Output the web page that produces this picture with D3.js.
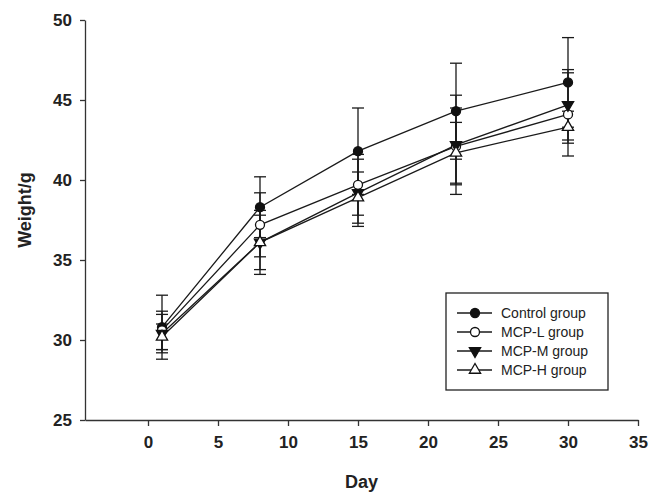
<!DOCTYPE html>
<meta charset="utf-8">
<style>
    body { margin: 0; background: #fff; }
    svg text { font-family: "Liberation Sans", Arial, sans-serif; fill: #222; }
    .axis path, .axis line { stroke: #333; stroke-width: 1.3; }
    .axis text { font-size: 17px; font-weight: bold; }
</style>
<body>
<script src="https://cdn.jsdelivr.net/npm/d3@7"></script>
<script>
    // data
    var days = [1, 8, 15, 22, 30];
    var controlMean = [30.8, 38.3, 41.8, 44.3, 46.1];
    var controlSd   = [2.0, 1.9, 2.7, 3.0, 2.8];
    var mcpLMean    = [30.6, 37.2, 39.7, 42.1, 44.1];
    var mcpLSd      = [1.2, 2.0, 1.9, 2.4, 2.6];
    var mcpMMean    = [30.4, 36.1, 39.2, 42.2, 44.7];
    var mcpMSd      = [1.2, 2.0, 2.1, 3.1, 2.2];
    var mcpHMean    = [30.2, 36.1, 38.9, 41.7, 43.3];
    var mcpHSd      = [0.8, 1.7, 1.6, 1.9, 1.0];
    var groupNames  = ["Control group", "MCP-L group", "MCP-M group", "MCP-H group"];
    var xTicks = [0, 5, 10, 15, 20, 25, 30, 35];
    var yTicks = [25, 30, 35, 40, 45, 50];

    var w = 649, h = 493;
    var plotLeft = 85, plotRight = 638, plotTop = 20, plotBottom = 420;

    var svg = d3.select("body").append("svg").attr("width", w).attr("height", h);

    var x = d3.scaleLinear().domain([-4.5, 35]).range([plotLeft, plotRight]);
    var y = d3.scaleLinear().domain([25, 50]).range([plotBottom, plotTop]);

    // axes
    svg.append("g").attr("class", "axis")
        .attr("transform", "translate(0," + plotBottom + ")")
        .call(d3.axisBottom(x).tickValues(xTicks).tickSize(6).tickSizeOuter(0).tickPadding(10));
    svg.append("g").attr("class", "axis")
        .attr("transform", "translate(" + plotLeft + ",0)")
        .call(d3.axisLeft(y).tickValues(yTicks).tickSize(5).tickSizeOuter(0).tickPadding(8));

    svg.append("text").text("Day")
        .attr("x", (plotLeft + plotRight) / 2).attr("y", 488)
        .attr("text-anchor", "middle").style("font-size", "18px").style("font-weight", "bold");
    svg.append("text").text("Weight/g")
        .attr("transform", "translate(31,210) rotate(-90)")
        .attr("text-anchor", "middle").style("font-size", "18px").style("font-weight", "bold");

    var series = [
        { name: groupNames[0], mean: controlMean, sd: controlSd, shape: "circle", fill: "#111" },
        { name: groupNames[1], mean: mcpLMean, sd: mcpLSd, shape: "circle", fill: "#fff" },
        { name: groupNames[2], mean: mcpMMean, sd: mcpMSd, shape: "down", fill: "#111" },
        { name: groupNames[3], mean: mcpHMean, sd: mcpHSd, shape: "up", fill: "#fff" }
    ];

    function marker(g, s) {
        if (s.shape === "circle") {
            g.append("circle").attr("r", 4.5);
        } else {
            g.append("path").attr("d", d3.symbol().type(d3.symbolTriangle).size(55)())
                .attr("transform", s.shape === "down" ? "rotate(180)" : null);
        }
        g.selectAll("circle, path").attr("fill", s.fill).attr("stroke", "#111").attr("stroke-width", 1.3);
    }

    var line = d3.line().x(function(d) { return x(d.day); }).y(function(d) { return y(d.v); });

    series.forEach(function(s) {
        var pts = days.map(function(d, i) { return { day: d, v: s.mean[i], sd: s.sd[i] }; });
        svg.append("path").datum(pts).attr("d", line)
            .attr("fill", "none").attr("stroke", "#1a1a1a").attr("stroke-width", 1.3);

        var eb = svg.append("g").attr("stroke", "#1a1a1a").attr("stroke-width", 1.3);
        eb.selectAll(".v").data(pts).enter().append("line")
            .attr("x1", function(d) { return x(d.day); }).attr("x2", function(d) { return x(d.day); })
            .attr("y1", function(d) { return y(d.v + d.sd); }).attr("y2", function(d) { return y(d.v - d.sd); });
        [1, -1].forEach(function(sign) {
            eb.selectAll(".c" + sign).data(pts).enter().append("line")
                .attr("x1", function(d) { return x(d.day) - 6; }).attr("x2", function(d) { return x(d.day) + 6; })
                .attr("y1", function(d) { return y(d.v + sign * d.sd); })
                .attr("y2", function(d) { return y(d.v + sign * d.sd); });
        });
        s.pts = pts;
    });

    series.forEach(function(s) {
        s.pts.forEach(function(d) {
            var g = svg.append("g").attr("transform", "translate(" + x(d.day) + "," + y(d.v) + ")");
            marker(g, s);
        });
    });

    // legend
    var lg = svg.append("g");
    lg.append("rect").attr("x", 446).attr("y", 293).attr("width", 162).attr("height", 97)
        .attr("fill", "#fff").attr("stroke", "#222").attr("stroke-width", 1.3);
    series.forEach(function(s, i) {
        var yy = 313 + i * 19;
        lg.append("line").attr("x1", 457).attr("x2", 492).attr("y1", yy).attr("y2", yy)
            .attr("stroke", "#1a1a1a").attr("stroke-width", 1.3);
        var g = lg.append("g").attr("transform", "translate(475," + yy + ")");
        marker(g, s);
        lg.append("text").text(s.name).attr("x", 501).attr("y", yy + 5).style("font-size", "14px");
    });
</script>
</body>
